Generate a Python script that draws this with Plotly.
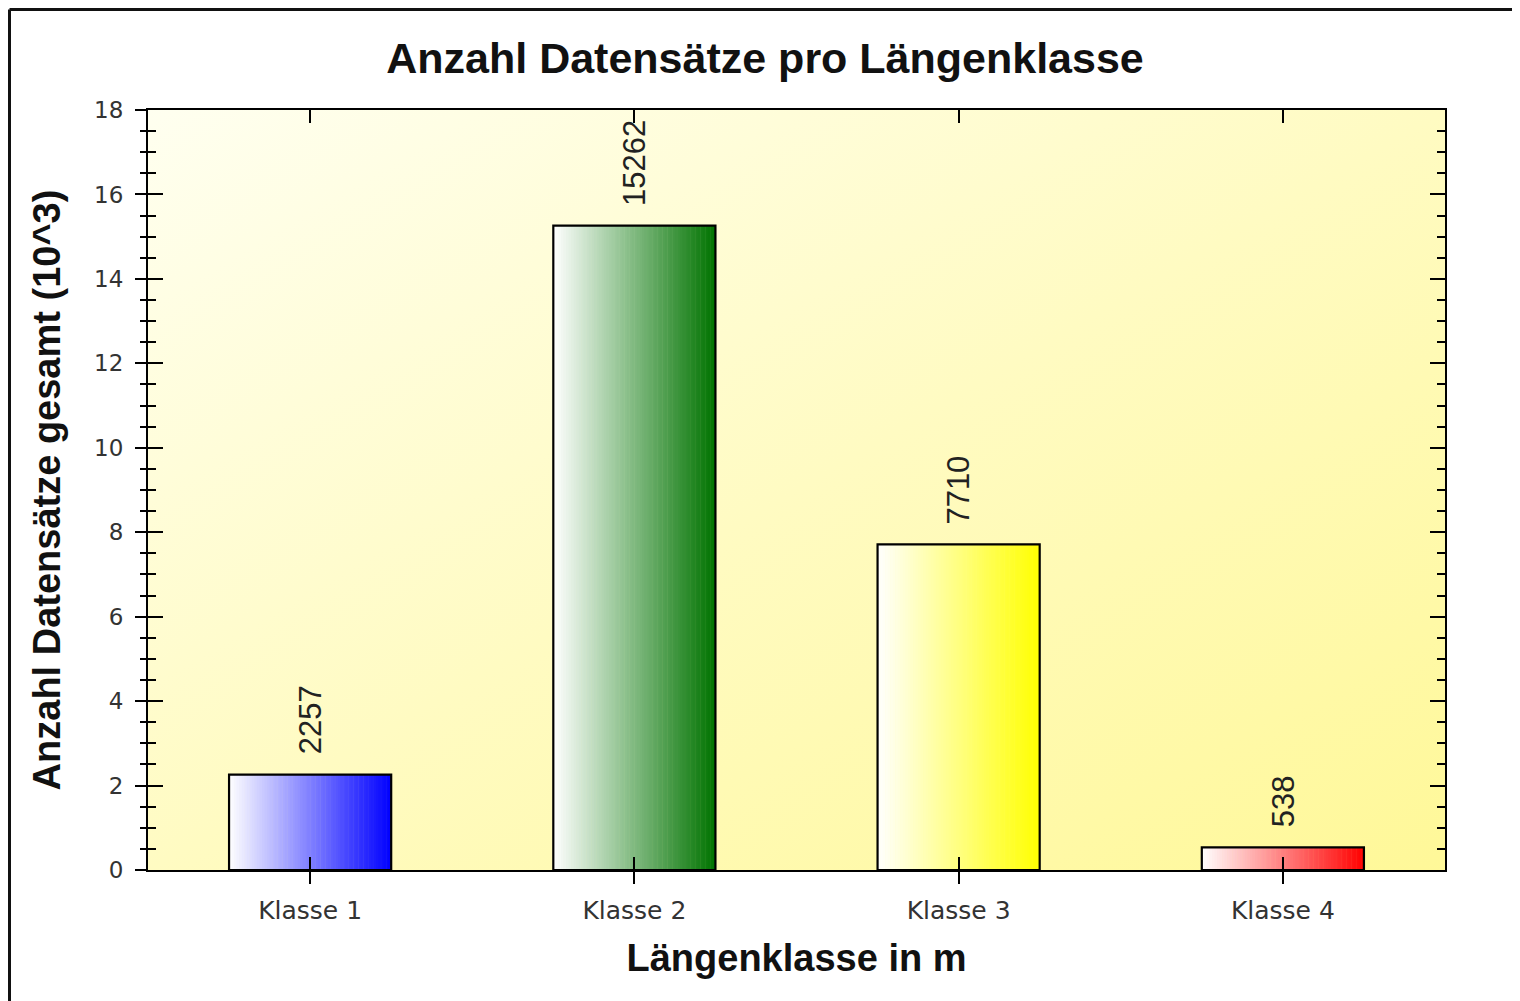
import plotly.graph_objects as go

# ---- data ----
categories = ["Klasse 1", "Klasse 2", "Klasse 3", "Klasse 4"]
counts = [2257, 15262, 7710, 538]
value_labels = ["2257", "15262", "7710", "538"]
end_colors = [(0, 0, 255), (0, 115, 0), (255, 255, 0), (255, 0, 0)]
y_tickvals = [0, 2, 4, 6, 8, 10, 12, 14, 16, 18]

title_text = "Anzahl Datensätze pro Längenklasse"
x_title = "Längenklasse in m"
y_title = "Anzahl Datensätze gesamt (10^3)"

values_k = [c / 1000 for c in counts]

# page has an 8px body margin; figure is sized/offset to compensate
W, H = 1512, 993
ML, MR, MT, MB = 140, 75, 102, 131
PW = W - ML - MR
PH = H - MT - MB

fig = go.Figure()

# gradient bars built from thin slices
N = 64
bw = 0.5
sw = bw / N
for i in range(N):
    t = (i + 0.5) / N
    cols = []
    for (r, g, b) in end_colors:
        cols.append("rgb(%d,%d,%d)" % (round(255 + (r - 255) * t),
                                       round(255 + (g - 255) * t),
                                       round(255 + (b - 255) * t)))
    off = -bw / 2 + i * sw
    wdt = min(sw * 1.2, bw / 2 - off)
    fig.add_trace(go.Bar(x=categories, y=values_k, offset=off, width=wdt,
                         marker=dict(color=cols, line=dict(width=0)),
                         showlegend=False, hoverinfo="skip"))

# outline
fig.add_trace(go.Bar(x=categories, y=values_k, offset=-bw / 2, width=bw,
                     marker=dict(color="rgba(0,0,0,0)", line=dict(color="#000000", width=2.2)),
                     showlegend=False, hoverinfo="skip"))

# value labels
for cat, v, lab in zip(categories, values_k, value_labels):
    fig.add_annotation(x=cat, y=v, text=lab, showarrow=False, textangle=-90,
                       xanchor="center", yanchor="bottom", yshift=18,
                       font=dict(family="Liberation Sans, Arial", size=31, color="#222222"))

# background gradient of plot area
svg = ("data:image/svg+xml;utf8,"
       "<svg xmlns='http://www.w3.org/2000/svg' width='100' height='100' preserveAspectRatio='none'>"
       "<defs><linearGradient id='g' x1='0' y1='0' x2='1' y2='1'>"
       "<stop offset='0' stop-color='%23fffff0'/>"
       "<stop offset='0.5' stop-color='%23fffbc2'/>"
       "<stop offset='1' stop-color='%23fff898'/>"
       "</linearGradient></defs>"
       "<rect width='100' height='100' fill='url(%23g)'/></svg>")
fig.add_layout_image(dict(source=svg, xref="paper", yref="paper", x=0, y=1,
                          sizex=1, sizey=1, sizing="stretch", layer="below",
                          xanchor="left", yanchor="top"))

# outer frame lines (top and left)
fx = 1.5
fy = 1.5
fig.add_shape(type="line", xref="paper", yref="paper",
              x0=(fx - ML) / PW, x1=(1504 - ML) / PW,
              y0=(H - MB - fy) / PH, y1=(H - MB - fy) / PH,
              line=dict(color="#111111", width=3))
fig.add_shape(type="line", xref="paper", yref="paper",
              x0=(fx - ML) / PW, x1=(fx - ML) / PW,
              y0=(H - MB - fy) / PH, y1=(H - MB - H) / PH,
              line=dict(color="#111111", width=3))

ytickfont = dict(family="DejaVu Sans", size=23, color="#333333")
xtickfont = dict(family="DejaVu Sans", size=25, color="#333333")

fig.update_layout(
    width=W, height=H,
    margin=dict(l=ML, r=MR, t=MT, b=MB),
    paper_bgcolor="#ffffff",
    plot_bgcolor="rgba(0,0,0,0)",
    barmode="overlay",
    showlegend=False,
    title=dict(text="<b>%s</b>" % title_text, x=757 / W, xanchor="center",
               y=1 - 50 / H, yanchor="middle",
               font=dict(family="Liberation Sans, Arial", size=43, color="#111111")),
    xaxis=dict(type="category", range=[-0.5, 3.5], showline=True, linecolor="#000000",
               linewidth=2, ticks="inside", ticklen=13, tickwidth=2, tickcolor="#000000",
               mirror="ticks", showgrid=False, zeroline=False, tickfont=xtickfont,
               ticklabelstandoff=17,
               title=dict(text="<b>%s</b>" % x_title, standoff=20,
                          font=dict(family="Liberation Sans, Arial", size=38, color="#111111"))),
    xaxis2=dict(overlaying="x", side="bottom", anchor="y", range=[-0.5, 3.5],
                tickvals=[0, 1, 2, 3], showticklabels=False, ticks="outside", ticklen=13,
                tickwidth=2, tickcolor="#000000", showline=False, showgrid=False, zeroline=False),
    yaxis=dict(range=[0, 18], tickvals=y_tickvals, showline=True, linecolor="#000000",
               linewidth=2, ticks="inside", ticklen=15, tickwidth=2, tickcolor="#000000",
               mirror="ticks", showgrid=False, zeroline=False, tickfont=ytickfont,
               ticklabelstandoff=18,
               minor=dict(dtick=0.5, ticks="inside", ticklen=8, tickwidth=2, tickcolor="#000000",
                          showgrid=False),
               title=dict(text="<b>%s</b>" % y_title, standoff=22,
                          font=dict(family="Liberation Sans, Arial", size=38, color="#111111"))),
    yaxis2=dict(overlaying="y", side="left", anchor="x", range=[0, 18], tickvals=y_tickvals,
                showticklabels=False, ticks="outside", ticklen=12, tickwidth=2,
                tickcolor="#000000", showline=False, showgrid=False, zeroline=False,
                minor=dict(dtick=0.5, ticks="outside", ticklen=7, tickwidth=2,
                           tickcolor="#000000", showgrid=False)),
)

# invisible trace to activate the secondary (tick-only) axes
fig.add_trace(go.Scatter(x=[0], y=[0], xaxis="x2", yaxis="y2", mode="markers",
                         marker=dict(opacity=0), showlegend=False, hoverinfo="skip"))

fig.write_html("out.html")
